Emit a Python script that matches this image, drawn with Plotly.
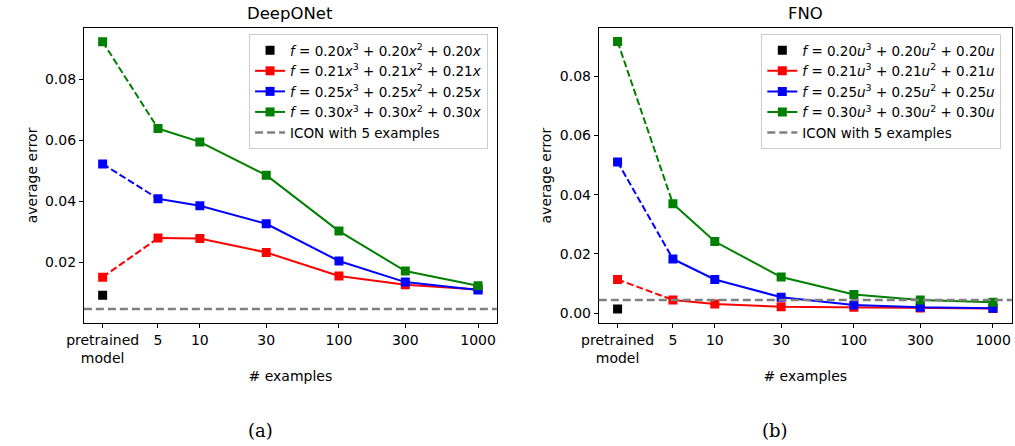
import plotly.graph_objects as go

# ---------------- data ----------------
tick_labels = ["pretrained<br>model", "5", "10", "30", "100", "300", "1000"]
x_vals = [2, 5, 10, 30, 100, 300, 1000]  # "pretrained" placed at 2 on the log axis

deeponet_red = [0.0151, 0.0279, 0.0278, 0.0232, 0.0155, 0.0126, 0.0111]
deeponet_blue = [0.0522, 0.0408, 0.0385, 0.0326, 0.0204, 0.0135, 0.0109]
deeponet_green = [0.0922, 0.0638, 0.0594, 0.0485, 0.0302, 0.0171, 0.0123]
deeponet_black = 0.0092
deeponet_icon = 0.0047

fno_red = [0.0114, 0.0045, 0.0031, 0.0022, 0.0020, 0.0018, 0.0016]
fno_blue = [0.0511, 0.0183, 0.0114, 0.0054, 0.0028, 0.0020, 0.0017]
fno_green = [0.0917, 0.0370, 0.0242, 0.0122, 0.0063, 0.0045, 0.0037]
fno_black = 0.0014
fno_icon = 0.0045

coefs = ["0.20", "0.21", "0.25", "0.30"]

FONT = "DejaVu Sans"
FS = 14
W, H = 1015, 446

fig = go.Figure()


def lab(c, v):
    return (f"<i>f</i> = {c}<i>{v}</i><sup>3</sup> + {c}<i>{v}</i><sup>2</sup>"
            f" + {c}<i>{v}</i>")


def add_panel(xa, ya, legend, var, black, red, blue, green, icon):
    # black pretrained marker
    fig.add_trace(go.Scatter(
        x=[x_vals[0]], y=[black], mode="markers", xaxis=xa, yaxis=ya,
        marker=dict(symbol="square", size=9, color="black"),
        name=lab(coefs[0], var), legend=legend, showlegend=True))
    for c, col, ys in [(coefs[1], "red", red), (coefs[2], "blue", blue),
                       (coefs[3], "green", green)]:
        fig.add_trace(go.Scatter(
            x=x_vals[:2], y=ys[:2], mode="lines", xaxis=xa, yaxis=ya,
            line=dict(color=col, width=2, dash="7px,3px"),
            showlegend=False, legend=legend, hoverinfo="skip"))
        fig.add_trace(go.Scatter(
            x=x_vals[1:], y=ys[1:], mode="lines+markers", xaxis=xa, yaxis=ya,
            line=dict(color=col, width=2),
            marker=dict(symbol="square", size=9, color=col),
            name=lab(c, var), legend=legend, showlegend=True))
        fig.add_trace(go.Scatter(
            x=x_vals[:1], y=ys[:1], mode="markers", xaxis=xa, yaxis=ya,
            marker=dict(symbol="square", size=9, color=col),
            showlegend=False, legend=legend))
    # legend entry for ICON line
    fig.add_trace(go.Scatter(
        x=[None], y=[None], mode="lines", xaxis=xa, yaxis=ya,
        line=dict(color="gray", width=2.5, dash="8px,4px"),
        name="ICON with 5 examples", legend=legend, showlegend=True))
    fig.add_shape(type="line", xref=f"{xa} domain", yref=ya,
                  x0=0, x1=1, y0=icon, y1=icon,
                  line=dict(color="gray", width=2.5, dash="8px,4px"))


add_panel("x", "y", "legend", "x", deeponet_black, deeponet_red,
          deeponet_blue, deeponet_green, deeponet_icon)
add_panel("x2", "y2", "legend2", "u", fno_black, fno_red,
          fno_blue, fno_green, fno_icon)

left = [68 / W, 488 / W]
right = [591.7 / W, 1011.7 / W]
ydom = [1 - 323 / H, 1 - 28 / H]

axis_common = dict(
    showline=True, linecolor="black", linewidth=1, mirror=True,
    ticks="outside", ticklen=4, tickcolor="black", showgrid=False,
    zeroline=False, tickfont=dict(family=FONT, size=FS, color="black"),
)

xcommon = dict(axis_common, type="log", range=[0.166, 3.135],
               tickmode="array", tickvals=x_vals, ticktext=tick_labels)

leg_common = dict(xanchor="left", yanchor="top",
                  bgcolor="rgba(255,255,255,0.8)", bordercolor="#cccccc",
                  borderwidth=1, font=dict(family=FONT, size=13.5),
                  tracegroupgap=0)

fig.update_layout(
    width=W, height=H, margin=dict(l=0, r=0, t=0, b=0),
    paper_bgcolor="white", plot_bgcolor="white",
    font=dict(family=FONT, size=FS, color="black"),
    xaxis=dict(xcommon, domain=left, anchor="y",
               title=dict(text="# examples", standoff=6,
                          font=dict(family=FONT, size=FS))),
    yaxis=dict(axis_common, domain=ydom, anchor="x", range=[0.0001, 0.0967],
               tickvals=[0.02, 0.04, 0.06, 0.08], tickformat=".2f"),
    xaxis2=dict(xcommon, domain=right, anchor="y2",
                title=dict(text="# examples", standoff=6,
                           font=dict(family=FONT, size=FS))),
    yaxis2=dict(axis_common, domain=ydom, anchor="x2", range=[-0.0033, 0.0963],
                tickvals=[0.0, 0.02, 0.04, 0.06, 0.08], tickformat=".2f"),
    legend=dict(leg_common, x=236 / W, y=1 - 34 / H),
    legend2=dict(leg_common, x=757 / W, y=1 - 34 / H),
)

annos = [
    dict(text="DeepONet", x=(left[0] + left[1]) / 2, y=1 - 14 / H,
         font=dict(family=FONT, size=16.5)),
    dict(text="FNO", x=(right[0] + right[1]) / 2, y=1 - 14 / H,
         font=dict(family=FONT, size=16.5)),
    dict(text="average error", x=15 / W, y=(ydom[0] + ydom[1]) / 2,
         textangle=-90, font=dict(family=FONT, size=FS)),
    dict(text="average error", x=538 / W, y=(ydom[0] + ydom[1]) / 2,
         textangle=-90, font=dict(family=FONT, size=FS)),
    dict(text="(a)", x=248 / W, y=1 - 430 / H,
         font=dict(family="DejaVu Serif", size=18)),
    dict(text="(b)", x=771 / W, y=1 - 430 / H,
         font=dict(family="DejaVu Serif", size=18)),
]
for a in annos:
    fig.add_annotation(xref="paper", yref="paper", showarrow=False,
                       xanchor="center", yanchor="middle", **a)

fig.write_html("out.html")
